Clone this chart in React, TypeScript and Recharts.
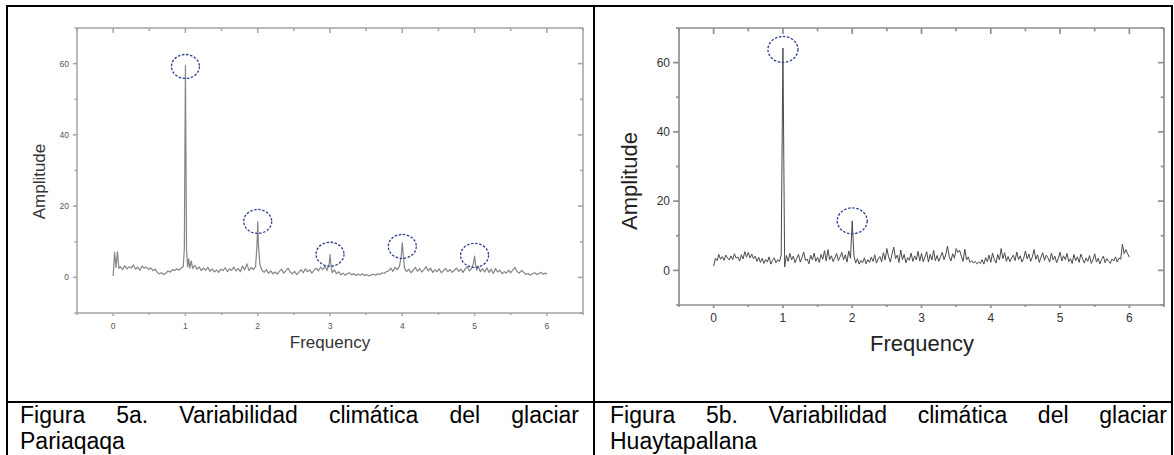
import React from 'react';
import { LineChart, Line, XAxis, YAxis, ReferenceDot } from 'recharts';

// ---------- shared axis data ----------
const xDomain: [number, number] = [-0.5, 6.5];
const yDomain: [number, number] = [-10, 70];
const xTicks = [-0.5, 0, 0.5, 1, 1.5, 2, 2.5, 3, 3.5, 4, 4.5, 5, 5.5, 6, 6.5];
const yTicks = [-10, 0, 10, 20, 30, 40, 50, 60, 70];
const xMajor = [0, 1, 2, 3, 4, 5, 6];
const yMajor = [0, 20, 40, 60];

const xTitle = 'Frequency';
const yTitle = 'Amplitude';
const captionA1 = 'Figura 5a. Variabilidad climática del glaciar';
const captionA2 = 'Pariaqaqa';
const captionB1 = 'Figura 5b. Variabilidad climática del glaciar';
const captionB2 = 'Huaytapallana';

// ---------- Figure 5a: Pariaqaqa spectrum [frequency, amplitude] ----------
const spectrumA: [number, number][] = [
  [0, 0.4], [0.02, 7.0], [0.04, 2.8], [0.06, 7.2], [0.08, 2.5], [0.1, 3.0], [0.13, 2.2], [0.16, 3.3], [0.19, 2.4],
  [0.22, 3.0], [0.25, 2.6], [0.28, 3.5], [0.31, 2.3], [0.34, 2.9], [0.37, 2.0], [0.4, 3.2], [0.43, 2.6], [0.46, 2.9],
  [0.49, 2.2], [0.52, 2.7], [0.55, 1.9], [0.58, 2.3], [0.61, 1.4], [0.64, 1.0], [0.67, 1.3], [0.7, 0.8], [0.73, 1.2],
  [0.76, 1.8], [0.79, 1.5], [0.82, 2.2], [0.85, 1.9], [0.88, 2.4], [0.91, 2.0], [0.94, 2.6], [0.97, 3.0], [0.985, 8],
  [1.0, 59.5], [1.015, 8], [1.03, 3.0], [1.045, 5.2], [1.06, 2.6], [1.08, 4.6], [1.1, 2.5], [1.13, 3.4], [1.16, 2.3],
  [1.19, 2.9], [1.22, 1.9], [1.25, 2.6], [1.28, 2.0], [1.31, 2.8], [1.34, 1.7], [1.37, 2.4], [1.4, 1.5], [1.43, 2.1],
  [1.46, 1.4], [1.49, 2.3], [1.52, 1.9], [1.55, 2.7], [1.58, 1.6], [1.61, 2.4], [1.64, 2.0], [1.67, 2.9], [1.7, 1.8],
  [1.73, 2.5], [1.76, 1.6], [1.79, 3.2], [1.82, 2.1], [1.85, 3.8], [1.88, 1.9], [1.91, 2.8], [1.94, 2.2], [1.97, 3.0],
  [1.99, 9], [2.0, 15.6], [2.01, 9], [2.03, 3.6], [2.06, 2.0], [2.09, 1.4], [2.12, 2.2], [2.15, 1.1], [2.18, 1.8],
  [2.21, 1.0], [2.24, 1.5], [2.27, 0.9], [2.3, 1.7], [2.33, 2.3], [2.36, 1.2], [2.39, 1.9], [2.42, 2.6], [2.45, 1.5],
  [2.48, 1.0], [2.51, 1.7], [2.54, 0.8], [2.57, 1.4], [2.6, 2.2], [2.63, 1.3], [2.66, 2.4], [2.69, 1.6], [2.72, 2.1],
  [2.75, 1.2], [2.78, 2.0], [2.81, 2.6], [2.84, 1.8], [2.87, 2.9], [2.9, 2.2], [2.93, 3.1], [2.96, 2.0], [2.99, 4],
  [3.0, 6.4], [3.01, 4], [3.03, 1.3], [3.06, 2.1], [3.09, 1.0], [3.12, 1.6], [3.15, 0.7], [3.18, 1.2], [3.21, 0.6],
  [3.24, 1.0], [3.27, 1.3], [3.3, 0.7], [3.33, 1.1], [3.36, 0.5], [3.39, 0.9], [3.42, 0.6], [3.45, 1.0], [3.48, 0.5],
  [3.51, 0.8], [3.54, 0.4], [3.57, 0.7], [3.6, 0.9], [3.63, 0.6], [3.66, 1.0], [3.69, 0.8], [3.72, 1.3], [3.75, 1.1],
  [3.78, 1.6], [3.81, 1.8], [3.84, 2.6], [3.87, 1.7], [3.9, 2.8], [3.93, 2.2], [3.96, 3.0], [3.985, 6], [4.0, 9.7],
  [4.015, 6], [4.03, 2.6], [4.06, 1.6], [4.09, 2.3], [4.12, 1.3], [4.15, 2.0], [4.18, 2.8], [4.21, 1.7], [4.24, 2.5],
  [4.27, 1.5], [4.3, 2.2], [4.33, 3.0], [4.36, 1.8], [4.39, 2.6], [4.42, 1.4], [4.45, 2.1], [4.48, 1.6], [4.51, 2.4],
  [4.54, 1.3], [4.57, 1.9], [4.6, 2.5], [4.63, 1.6], [4.66, 2.2], [4.69, 1.4], [4.72, 2.0], [4.75, 2.6], [4.78, 1.7],
  [4.81, 2.3], [4.84, 1.4], [4.87, 2.4], [4.9, 3.0], [4.93, 1.8], [4.96, 2.6], [4.985, 4], [5.0, 6.0], [5.015, 3.5],
  [5.03, 2.0], [5.05, 3.2], [5.08, 1.6], [5.11, 2.4], [5.14, 1.5], [5.17, 2.7], [5.2, 1.4], [5.23, 2.3], [5.26, 1.1],
  [5.29, 2.5], [5.32, 1.5], [5.35, 2.0], [5.38, 1.0], [5.41, 1.6], [5.44, 1.2], [5.47, 2.0], [5.5, 1.3], [5.53, 2.1],
  [5.56, 2.8], [5.59, 1.6], [5.62, 1.2], [5.65, 2.0], [5.68, 1.4], [5.71, 0.8], [5.74, 1.1], [5.77, 0.6], [5.8, 1.0],
  [5.83, 1.3], [5.86, 0.8], [5.89, 1.1], [5.92, 1.4], [5.95, 0.9], [5.98, 1.2], [6.0, 0.9],
];
const peaksA: [number, number][] = [[1, 59.2], [2, 15.7], [3, 6.5], [4, 8.7], [5, 6.2]];

// ---------- Figure 5b: Huaytapallana spectrum [frequency, amplitude] ----------
const spectrumB: [number, number][] = [
  [0, 1.2], [0.025, 3.5], [0.05, 2.8], [0.075, 4.6], [0.1, 3.2], [0.125, 4.0], [0.15, 2.9], [0.175, 4.4], [0.2, 3.6], [0.225, 3.0],
  [0.25, 4.2], [0.275, 3.1], [0.3, 4.8], [0.325, 3.5], [0.35, 3.9], [0.375, 2.7], [0.4, 4.5], [0.425, 3.3], [0.45, 5.4], [0.475, 3.8],
  [0.5, 5.2], [0.525, 3.6], [0.55, 4.7], [0.575, 3.4], [0.6, 4.1], [0.625, 2.6], [0.65, 3.8], [0.675, 2.3], [0.7, 3.5], [0.725, 2.0],
  [0.75, 3.2], [0.775, 2.4], [0.8, 3.9], [0.825, 1.8], [0.85, 2.9], [0.875, 3.6], [0.9, 2.2], [0.925, 3.1], [0.95, 2.5], [0.975, 4.5],
  [1.0, 64.2], [1.025, 1.0], [1.05, 4.3], [1.075, 2.6], [1.1, 4.9], [1.125, 3.0], [1.15, 4.1], [1.175, 2.2], [1.2, 3.5], [1.225, 4.6],
  [1.25, 2.4], [1.275, 3.7], [1.3, 5.3], [1.325, 2.8], [1.35, 3.3], [1.375, 1.9], [1.4, 4.4], [1.425, 3.0], [1.45, 5.0], [1.475, 2.6],
  [1.5, 3.8], [1.525, 2.3], [1.55, 4.6], [1.575, 3.2], [1.6, 5.7], [1.625, 2.7], [1.65, 6.0], [1.675, 3.1], [1.7, 4.2], [1.725, 2.5],
  [1.75, 3.6], [1.775, 4.9], [1.8, 2.8], [1.825, 3.9], [1.85, 5.2], [1.875, 3.0], [1.9, 4.5], [1.925, 2.4], [1.95, 5.6], [1.975, 3.5],
  [2.0, 14.3], [2.025, 4.2], [2.05, 2.1], [2.075, 3.4], [2.1, 1.8], [2.125, 2.9], [2.15, 2.2], [2.175, 3.6], [2.2, 1.9], [2.225, 3.1],
  [2.25, 2.3], [2.275, 3.8], [2.3, 2.6], [2.325, 4.5], [2.35, 2.1], [2.375, 3.3], [2.4, 4.0], [2.425, 2.5], [2.45, 5.1], [2.475, 3.0],
  [2.5, 6.3], [2.525, 3.9], [2.55, 2.4], [2.575, 4.8], [2.6, 6.7], [2.625, 3.4], [2.65, 4.4], [2.675, 2.3], [2.7, 5.9], [2.725, 3.1],
  [2.75, 4.6], [2.775, 2.2], [2.8, 3.7], [2.825, 2.9], [2.85, 5.0], [2.875, 2.6], [2.9, 4.2], [2.925, 3.0], [2.95, 5.5], [2.975, 2.7],
  [3.0, 4.9], [3.025, 2.5], [3.05, 3.8], [3.075, 5.4], [3.1, 2.4], [3.125, 4.6], [3.15, 3.0], [3.175, 5.8], [3.2, 2.8], [3.225, 4.3],
  [3.25, 2.6], [3.275, 3.9], [3.3, 5.2], [3.325, 3.1], [3.35, 4.5], [3.375, 7.0], [3.4, 4.0], [3.425, 2.7], [3.45, 4.8], [3.475, 3.5],
  [3.5, 6.3], [3.525, 5.2], [3.55, 5.8], [3.575, 4.1], [3.6, 2.6], [3.625, 6.1], [3.65, 3.0], [3.675, 3.9], [3.7, 2.3], [3.725, 2.8],
  [3.75, 2.1], [3.775, 2.6], [3.8, 1.9], [3.825, 2.4], [3.85, 2.0], [3.875, 3.1], [3.9, 1.8], [3.925, 3.7], [3.95, 2.5], [3.975, 4.4],
  [4.0, 2.3], [4.025, 5.0], [4.05, 3.2], [4.075, 2.1], [4.1, 4.6], [4.125, 3.0], [4.15, 6.3], [4.175, 3.4], [4.2, 5.1], [4.225, 2.6],
  [4.25, 4.0], [4.275, 2.5], [4.3, 3.6], [4.325, 4.4], [4.35, 2.8], [4.375, 5.3], [4.4, 3.1], [4.425, 4.2], [4.45, 2.4], [4.475, 3.5],
  [4.5, 5.6], [4.525, 3.3], [4.55, 4.7], [4.575, 2.6], [4.6, 3.9], [4.625, 6.0], [4.65, 3.2], [4.675, 4.5], [4.7, 2.3], [4.725, 3.8],
  [4.75, 5.1], [4.775, 2.9], [4.8, 4.4], [4.825, 3.6], [4.85, 2.4], [4.875, 5.0], [4.9, 3.0], [4.925, 4.1], [4.95, 2.2], [4.975, 3.5],
  [5.0, 5.3], [5.025, 2.7], [5.05, 4.2], [5.075, 3.1], [5.1, 4.9], [5.125, 2.5], [5.15, 3.4], [5.175, 2.0], [5.2, 4.6], [5.225, 2.8],
  [5.25, 3.9], [5.275, 2.3], [5.3, 4.7], [5.325, 3.3], [5.35, 2.1], [5.375, 3.6], [5.4, 2.6], [5.425, 4.3], [5.45, 2.0], [5.475, 3.0],
  [5.5, 4.8], [5.525, 2.4], [5.55, 3.5], [5.575, 1.9], [5.6, 3.2], [5.625, 4.1], [5.65, 2.2], [5.675, 3.4], [5.7, 2.6], [5.725, 2.0],
  [5.75, 3.3], [5.775, 2.7], [5.8, 3.9], [5.825, 2.4], [5.85, 3.6], [5.875, 3.2], [5.9, 7.6], [5.925, 4.8], [5.95, 6.0], [5.975, 4.8],
  [6.0, 3.8],
];
const peaksB: [number, number][] = [[1, 63.8], [2, 14.3]];

// ---------- helpers ----------
type Side = 'bottom' | 'top' | 'left' | 'right';
interface TickCfg {
  side: Side;
  majors: number[];
  majorLen: number;
  minorLen: number;
  showLabel: boolean;
  fontSize: number;
  gap: number;
  stroke: string;
  strokeWidth: number;
  color: string;
}

function makeTick(cfg: TickCfg) {
  return function TickMark(props: any) {
    const { x, y, payload } = props;
    const v = payload.value;
    const major = cfg.majors.includes(v);
    const len = major ? cfg.majorLen : cfg.minorLen;
    const s = { stroke: cfg.stroke, strokeWidth: cfg.strokeWidth };
    let line: React.ReactNode = null;
    let text: React.ReactNode = null;
    const fontStyle = { fontFamily: 'Arial, "Liberation Sans", sans-serif', fontSize: cfg.fontSize, fill: cfg.color };
    if (cfg.side === 'bottom') {
      line = <line x1={x} y1={y} x2={x} y2={y + len} {...s} />;
      if (cfg.showLabel && major)
        text = (
          <text x={x} y={y + cfg.majorLen + cfg.gap + cfg.fontSize * 0.72} textAnchor="middle" style={fontStyle}>
            {v}
          </text>
        );
    } else if (cfg.side === 'top') {
      line = <line x1={x} y1={y} x2={x} y2={y + len} {...s} />;
    } else if (cfg.side === 'left') {
      line = <line x1={x - len} y1={y} x2={x} y2={y} {...s} />;
      if (cfg.showLabel && major)
        text = (
          <text x={x - cfg.majorLen - cfg.gap} y={y + cfg.fontSize * 0.36} textAnchor="end" style={fontStyle}>
            {v}
          </text>
        );
    } else {
      line = <line x1={x} y1={y} x2={x - len} y2={y} {...s} />;
    }
    return (
      <g>
        {line}
        {text}
      </g>
    );
  };
}

function makeEllipse(rx: number, ry: number, color: string) {
  return function EllipseMark(props: any) {
    const { cx, cy } = props;
    if (cx == null || cy == null) return <g />;
    return (
      <ellipse cx={cx} cy={cy} rx={rx} ry={ry} fill="none" stroke={color} strokeWidth={1.3} strokeDasharray="2.5 1.6" />
    );
  };
}

interface SpectrumProps {
  data: [number, number][];
  peaks: [number, number][];
  width: number;
  height: number;
  leftW: number;
  rightW: number;
  topH: number;
  bottomH: number;
  frame: string;
  frameW: number;
  lineColor: string;
  lineW: number;
  fontSize: number;
  labelColor: string;
  leftMajor: number;
  leftMinor: number;
  leftGap: number;
  bottomMajor: number;
  bottomMinor: number;
  bottomGap: number;
  innerMajor: number;
  innerMinor: number;
  ellRx: number;
  ellRy: number;
}

function Spectrum(p: SpectrumProps) {
  const rows = p.data.map(([f, a]) => ({ f, a }));
  const base = { stroke: p.frame, strokeWidth: p.frameW, color: p.labelColor, fontSize: p.fontSize };
  const bottomTick = makeTick({ ...base, side: 'bottom', majors: xMajor, majorLen: p.bottomMajor, minorLen: p.bottomMinor, showLabel: true, gap: p.bottomGap });
  const topTick = makeTick({ ...base, side: 'top', majors: xMajor, majorLen: p.innerMajor, minorLen: p.innerMinor, showLabel: false, gap: 0 });
  const leftTick = makeTick({ ...base, side: 'left', majors: yMajor, majorLen: p.leftMajor, minorLen: p.leftMinor, showLabel: true, gap: p.leftGap });
  const rightTick = makeTick({ ...base, side: 'right', majors: yMajor, majorLen: p.innerMajor, minorLen: p.innerMinor, showLabel: false, gap: 0 });
  const ell = makeEllipse(p.ellRx, p.ellRy, '#2b3d8f');
  const axisLine = { stroke: p.frame, strokeWidth: p.frameW };
  return (
    <LineChart width={p.width} height={p.height} data={rows} margin={{ top: 0, right: 0, bottom: 0, left: 0 }}>
      <XAxis
        dataKey="f"
        type="number"
        domain={xDomain}
        ticks={xTicks}
        interval={0}
        height={p.bottomH}
        tickSize={0}
        tickMargin={0}
        tickLine={false}
        axisLine={axisLine}
        tick={bottomTick}
      />
      <XAxis
        xAxisId="top"
        dataKey="f"
        orientation="top"
        type="number"
        domain={xDomain}
        ticks={xTicks}
        interval={0}
        height={p.topH}
        tickSize={0}
        tickMargin={0}
        tickLine={false}
        axisLine={axisLine}
        tick={topTick}
      />
      <YAxis
        type="number"
        domain={yDomain}
        ticks={yTicks}
        interval={0}
        width={p.leftW}
        tickSize={0}
        tickMargin={0}
        tickLine={false}
        axisLine={axisLine}
        tick={leftTick}
      />
      <YAxis
        yAxisId="right"
        orientation="right"
        type="number"
        domain={yDomain}
        ticks={yTicks}
        interval={0}
        width={p.rightW}
        tickSize={0}
        tickMargin={0}
        tickLine={false}
        axisLine={axisLine}
        tick={rightTick}
      />
      {/* invisible twin series that binds the mirrored top/right frame axes to the data */}
      <Line
        xAxisId="top"
        yAxisId="right"
        dataKey="a"
        type="linear"
        stroke="none"
        strokeWidth={0}
        dot={false}
        activeDot={false}
        legendType="none"
        isAnimationActive={false}
      />
      <Line
        dataKey="a"
        type="linear"
        stroke={p.lineColor}
        strokeWidth={p.lineW}
        dot={false}
        activeDot={false}
        isAnimationActive={false}
        strokeLinejoin="round"
      />
      {p.peaks.map(([f, a], i) => (
        <ReferenceDot key={i} x={f} y={a} r={10} shape={ell} ifOverflow="visible" />
      ))}
    </LineChart>
  );
}

const FONT = 'Arial, "Liberation Sans", sans-serif';

function Border(props: { left: number; top: number; width: number; height: number }) {
  return <div style={{ position: 'absolute', background: '#000', ...props }} />;
}

export default function App() {
  return (
    <div
      style={{
        position: 'absolute',
        left: 0,
        top: 0,
        width: 1174,
        height: 455,
        background: '#fff',
        overflow: 'hidden',
        fontFamily: FONT,
      }}
    >
      {/* Figure 5a */}
      <div style={{ position: 'absolute', left: 0, top: 0 }}>
        <Spectrum
          data={spectrumA}
          peaks={peaksA}
          width={590}
          height={400}
          leftW={77}
          rightW={7}
          topH={28}
          bottomH={87}
          frame="#a3a3a3"
          frameW={1.5}
          lineColor="#858585"
          lineW={1.2}
          fontSize={8.5}
          labelColor="#555"
          leftMajor={4}
          leftMinor={2.5}
          leftGap={4}
          bottomMajor={3}
          bottomMinor={2}
          bottomGap={6.5}
          innerMajor={5}
          innerMinor={3}
          ellRx={14}
          ellRy={12}
        />
      </div>
      <div
        style={{
          position: 'absolute',
          left: 39 - 60,
          top: 181 - 8.5,
          width: 120,
          height: 17,
          lineHeight: '17px',
          fontSize: 17,
          textAlign: 'center',
          color: '#333',
          transform: 'rotate(-90deg)',
          whiteSpace: 'nowrap',
        }}
      >
        {yTitle}
      </div>
      <div
        style={{
          position: 'absolute',
          left: 230,
          top: 334,
          width: 200,
          lineHeight: '17px',
          fontSize: 17,
          textAlign: 'center',
          color: '#333',
        }}
      >
        {xTitle}
      </div>

      {/* Figure 5b */}
      <div style={{ position: 'absolute', left: 594, top: 0 }}>
        <Spectrum
          data={spectrumB}
          peaks={peaksB}
          width={578}
          height={400}
          leftW={85}
          rightW={8}
          topH={28}
          bottomH={95}
          frame="#8f8f8f"
          frameW={1.7}
          lineColor="#4a4a4a"
          lineW={1}
          fontSize={12}
          labelColor="#333"
          leftMajor={6}
          leftMinor={3}
          leftGap={3}
          bottomMajor={3}
          bottomMinor={2}
          bottomGap={5.4}
          innerMajor={6}
          innerMinor={3.3}
          ellRx={15}
          ellRy={13}
        />
      </div>
      <div
        style={{
          position: 'absolute',
          left: 630 - 80,
          top: 181 - 11,
          width: 160,
          height: 22,
          lineHeight: '22px',
          fontSize: 22,
          textAlign: 'center',
          color: '#222',
          transform: 'rotate(-90deg)',
          whiteSpace: 'nowrap',
        }}
      >
        {yTitle}
      </div>
      <div
        style={{
          position: 'absolute',
          left: 822,
          top: 333,
          width: 200,
          lineHeight: '22px',
          fontSize: 22,
          textAlign: 'center',
          color: '#222',
        }}
      >
        {xTitle}
      </div>

      {/* Captions */}
      <div style={{ position: 'absolute', left: 20, top: 403, width: 559, fontSize: 23, lineHeight: '25.5px', color: '#000' }}>
        <div style={{ textAlign: 'justify', textAlignLast: 'justify' }}>{captionA1}</div>
        <div>{captionA2}</div>
      </div>
      <div style={{ position: 'absolute', left: 610, top: 403, width: 557, fontSize: 23, lineHeight: '25.5px', color: '#000' }}>
        <div style={{ textAlign: 'justify', textAlignLast: 'justify' }}>{captionB1}</div>
        <div>{captionB2}</div>
      </div>

      {/* Table borders */}
      <Border left={6} top={5} width={1167} height={2} />
      <Border left={6} top={5} width={2} height={450} />
      <Border left={593} top={5} width={2} height={450} />
      <Border left={1171} top={5} width={2} height={450} />
      <Border left={6} top={401} width={1167} height={2} />
    </div>
  );
}
